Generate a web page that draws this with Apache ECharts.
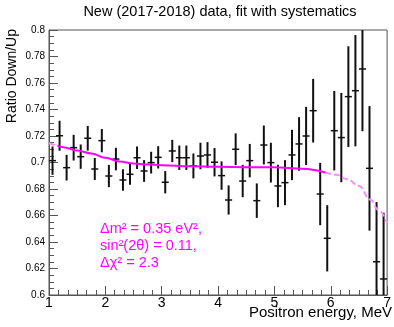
<!DOCTYPE html>
<html>
<head>
<meta charset="utf-8">
<script src="https://cdn.jsdelivr.net/npm/echarts@6/dist/echarts.min.js"></script>
<style>
html,body{margin:0;padding:0;background:#fff;}
#c{width:394px;height:327px;}
</style>
</head>
<body>
<div id="c"></div>
<script>
// ---- data ----
var binCenters = [1.0625, 1.1875, 1.3125, 1.4375, 1.5625, 1.6875, 1.8125, 1.9375,
  2.0625, 2.1875, 2.3125, 2.4375, 2.5625, 2.6875, 2.8125, 2.9375,
  3.0625, 3.1875, 3.3125, 3.4375, 3.5625, 3.6875, 3.8125, 3.9375,
  4.0625, 4.1875, 4.3125, 4.4375, 4.5625, 4.6875, 4.8125, 4.9375,
  5.0625, 5.1875, 5.3125, 5.4375, 5.5625, 5.6875, 5.8125, 5.9375,
  6.0625, 6.1875, 6.3125, 6.4375, 6.5625, 6.6875, 6.8125, 6.9375];
var ratio = [0.7014, 0.7202, 0.6961, 0.7112, 0.7044, 0.7183, 0.6951, 0.7165,
  0.6898, 0.7026, 0.6868, 0.6911, 0.7036, 0.6936, 0.6999, 0.7039,
  0.6851, 0.7087, 0.7036, 0.7036, 0.6974, 0.7049, 0.7057, 0.7002,
  0.6901, 0.6717, 0.7100, 0.6860, 0.7014, 0.6712, 0.7132, 0.6999,
  0.6823, 0.6848, 0.7057, 0.7140, 0.7200, 0.7391, 0.6762, 0.6428,
  0.7240, 0.7188, 0.7497, 0.7542, 0.7706, 0.6956, 0.6251, 0.6121];
var ratioErr = [0.0107, 0.0113, 0.0097, 0.0097, 0.0092, 0.0093, 0.0083, 0.0088,
  0.0084, 0.0085, 0.0081, 0.0079, 0.0085, 0.0082, 0.0082, 0.0084,
  0.0084, 0.0084, 0.0092, 0.0092, 0.0094, 0.0100, 0.0097, 0.0107,
  0.0107, 0.0110, 0.0120, 0.0122, 0.0126, 0.0130, 0.0147, 0.0150,
  0.0160, 0.0170, 0.0190, 0.0202, 0.0220, 0.0240, 0.0235, 0.0250,
  0.0300, 0.0337, 0.0380, 0.0420, 0.0470, 0.0470, 0.0450, 0.0500];
var binHalfWidth = 0.0625;

var fitX = [1.0, 1.15, 1.25, 1.5, 1.75, 2.0, 2.25, 2.5, 2.75, 3.0, 3.5, 4.0, 4.5, 5.0, 5.5, 5.9, 6.1, 6.3, 6.5, 6.7, 6.85, 7.0];
var fitY = [0.7145, 0.7128, 0.7115, 0.7090, 0.7068, 0.7035, 0.7008, 0.6993, 0.6985, 0.6980, 0.6972, 0.6967, 0.6965, 0.6964, 0.6953, 0.6925, 0.6908, 0.6872, 0.6823, 0.6720, 0.6640, 0.6545];
var fitRangeLow = 1.15, fitRangeHigh = 5.9;

var xTicks = ['1','2','3','4','5','6','7'];
var titleText = 'New (2017-2018) data, fit with systematics';
var xTitle = 'Positron energy, MeV';
var yTitle = 'Ratio Down/Up';
var annot = ['\u0394m\u00b2 = 0.35 eV\u00b2,', 'sin\u00b2(2\u03b8) = 0.11,', '\u0394\u03c7\u00b2 = 2.3'];

var xMin = 1, xMax = 7, yMin = 0.6, yMax = 0.8;

// ---- build ----
var points = binCenters.map(function (x, i) { return [x, ratio[i], ratioErr[i], binHalfWidth]; });
var solid = [], dashed = [];
fitX.forEach(function (x, i) {
  if (x >= fitRangeLow && x <= fitRangeHigh) solid.push([x, fitY[i]]);
});
fitX.forEach(function (x, i) { if (x <= fitRangeLow) dashed.push([x, fitY[i]]); });
dashed.push(null);
fitX.forEach(function (x, i) { if (x >= fitRangeHigh) dashed.push([x, fitY[i]]); });

var FONT = 'Liberation Sans, Arial, Helvetica, sans-serif';
var chart = echarts.init(document.getElementById('c'), null, {renderer: 'canvas'});
function clampY(v) { return Math.max(yMin, Math.min(yMax, v)); }

chart.setOption({
  animation: false,
  backgroundColor: '#fff',
  grid: {left: 49, right: 2, top: 30, bottom: 32, show: true, borderColor: '#555', borderWidth: 1, backgroundColor: 'transparent'},
  xAxis: {
    type: 'value', min: xMin, max: xMax, interval: 1,
    axisLine: {show: true, onZero: false, lineStyle: {color: '#555', width: 1}},
    axisTick: {show: true, inside: true, length: 9, lineStyle: {color: '#555'}},
    minorTick: {show: true, splitNumber: 6, length: 5, lineStyle: {color: '#555'}},
    splitLine: {show: false},
    axisLabel: {fontFamily: FONT, fontSize: 14, color: '#000', margin: 1,
      formatter: function (v) { return xTicks[Math.round(v - xMin)]; }}
  },
  yAxis: {
    type: 'value', min: yMin, max: yMax, interval: 0.02,
    axisLine: {show: true, onZero: false, lineStyle: {color: '#555', width: 1}},
    axisTick: {show: true, inside: true, length: 9, lineStyle: {color: '#555'}},
    minorTick: {show: true, splitNumber: 4, length: 5, lineStyle: {color: '#555'}},
    splitLine: {show: false},
    axisLabel: {fontFamily: FONT, fontSize: 10, color: '#000', margin: 4,
      formatter: function (v) { return String(Math.round(v * 100) / 100); }}
  },
  series: [
    {
      type: 'custom', clip: true, z: 3,
      data: points,
      renderItem: function (params, api) {
        var x = api.value(0), y = api.value(1), e = api.value(2), hw = api.value(3);
        var c = api.coord([x, y]);
        var hi = api.coord([x, clampY(y + e)]);
        var lo = api.coord([x, clampY(y - e)]);
        var l = api.coord([x - hw, y]);
        var r = api.coord([x + hw, y]);
        return {type: 'group', children: [
          {type: 'line', shape: {x1: c[0], y1: hi[1], x2: c[0], y2: lo[1]}, style: {stroke: '#111', lineWidth: 2}},
          {type: 'line', shape: {x1: l[0], y1: c[1], x2: r[0], y2: c[1]}, style: {stroke: '#111', lineWidth: 1.5}}
        ]};
      }
    },
    {
      type: 'line', data: solid, smooth: 0.4, smoothMonotone: 'x', symbol: 'none', z: 4,
      lineStyle: {color: '#ff00ff', width: 2}
    },
    {
      type: 'line', data: dashed, smooth: 0.4, smoothMonotone: 'x', symbol: 'none', connectNulls: false, z: 4,
      lineStyle: {color: '#ff8cff', width: 2, type: [6, 3]}
    }
  ],
  graphic: [
    {type: 'text', x: 220, y: 12, style: {text: titleText, font: '14.5px ' + FONT, fill: '#000', align: 'center', verticalAlign: 'middle'}},
    {type: 'text', x: 392, y: 313, style: {text: xTitle, font: '15px ' + FONT, fill: '#000', align: 'right', verticalAlign: 'middle'}},
    {type: 'text', x: 12, y: 29, rotation: Math.PI / 2, style: {text: yTitle, font: '14px ' + FONT, fill: '#000', align: 'right', verticalAlign: 'middle'}},
    {type: 'text', x: 100, y: 229, style: {text: annot[0], font: '14.5px ' + FONT, fill: '#ff00ff', align: 'left', verticalAlign: 'middle'}},
    {type: 'text', x: 100, y: 246, style: {text: annot[1], font: '14.5px ' + FONT, fill: '#ff00ff', align: 'left', verticalAlign: 'middle'}},
    {type: 'text', x: 100, y: 263, style: {text: annot[2], font: '14.5px ' + FONT, fill: '#ff00ff', align: 'left', verticalAlign: 'middle'}}
  ]
});
</script>
</body>
</html>
